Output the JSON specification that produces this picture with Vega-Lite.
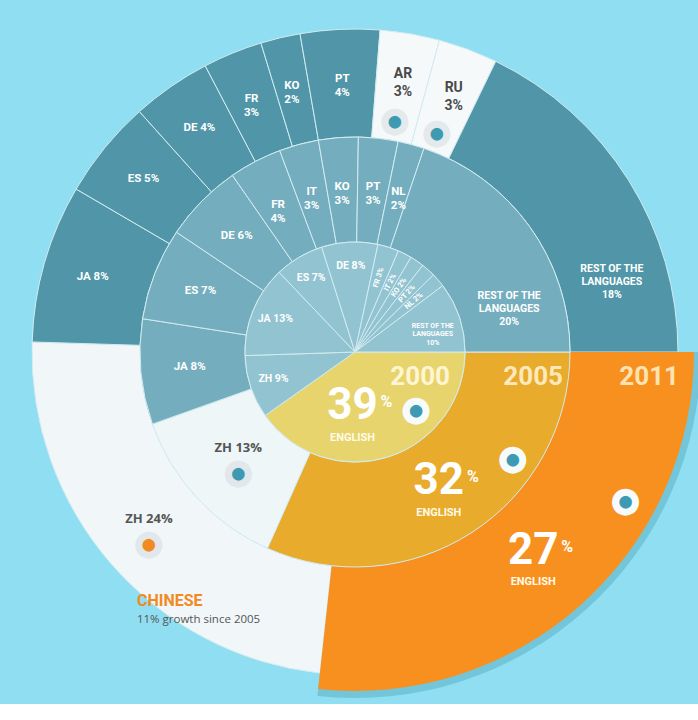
{
  "$schema": "https://vega.github.io/schema/vega-lite/v6.json",
  "width": 710,
  "height": 704,
  "padding": 0,
  "autosize": "none",
  "config": {
    "background": "#8fdef1",
    "view": {"stroke": null},
    "text": {"font": "Roboto, 'Liberation Sans', sans-serif", "fontWeight": "bold", "align": "center", "baseline": "middle", "lineBreak": "\n"}
  },
  "data": {
    "values": [
      {"year": 2000, "lang": "EN", "label": "39", "v": 39, "ord": 1},
      {"year": 2000, "lang": "ZH", "label": "ZH 9%", "v": 9, "ord": 2},
      {"year": 2000, "lang": "JA", "label": "JA 13%", "v": 13, "ord": 3},
      {"year": 2000, "lang": "ES", "label": "ES 7%", "v": 7, "ord": 4},
      {"year": 2000, "lang": "DE", "label": "DE 8%", "v": 8, "ord": 5},
      {"year": 2000, "lang": "FR", "label": "FR 3%", "v": 3, "ord": 6},
      {"year": 2000, "lang": "IT", "label": "IT 2%", "v": 2, "ord": 7},
      {"year": 2000, "lang": "KO", "label": "KO 2%", "v": 2, "ord": 8},
      {"year": 2000, "lang": "PT", "label": "PT 2%", "v": 2, "ord": 9},
      {"year": 2000, "lang": "NL", "label": "NL 2%", "v": 2, "ord": 10},
      {"year": 2000, "lang": "REST", "label": "REST OF THE\nLANGUAGES\n10%", "v": 10, "ord": 11},
      {"year": 2005, "lang": "EN", "label": "32", "v": 32, "ord": 1},
      {"year": 2005, "lang": "ZH", "label": "ZH 13%", "v": 13, "ord": 2},
      {"year": 2005, "lang": "JA", "label": "JA 8%", "v": 8, "ord": 3},
      {"year": 2005, "lang": "ES", "label": "ES 7%", "v": 7, "ord": 4},
      {"year": 2005, "lang": "DE", "label": "DE 6%", "v": 6, "ord": 5},
      {"year": 2005, "lang": "FR", "label": "FR\n4%", "v": 4, "ord": 6},
      {"year": 2005, "lang": "IT", "label": "IT\n3%", "v": 3, "ord": 7},
      {"year": 2005, "lang": "KO", "label": "KO\n3%", "v": 3, "ord": 8},
      {"year": 2005, "lang": "PT", "label": "PT\n3%", "v": 3, "ord": 9},
      {"year": 2005, "lang": "NL", "label": "NL\n2%", "v": 2, "ord": 10},
      {"year": 2005, "lang": "REST", "label": "REST OF THE\nLANGUAGES\n20%", "v": 20, "ord": 11},
      {"year": 2011, "lang": "EN", "label": "27", "v": 27, "ord": 1},
      {"year": 2011, "lang": "ZH", "label": "ZH 24%", "v": 24, "ord": 2},
      {"year": 2011, "lang": "JA", "label": "JA 8%", "v": 8, "ord": 3},
      {"year": 2011, "lang": "ES", "label": "ES 5%", "v": 5, "ord": 4},
      {"year": 2011, "lang": "DE", "label": "DE 4%", "v": 4, "ord": 5},
      {"year": 2011, "lang": "FR", "label": "FR\n3%", "v": 3, "ord": 6},
      {"year": 2011, "lang": "KO", "label": "KO\n2%", "v": 2, "ord": 7},
      {"year": 2011, "lang": "PT", "label": "PT\n4%", "v": 4, "ord": 8},
      {"year": 2011, "lang": "AR", "label": "AR\n3%", "v": 3, "ord": 9},
      {"year": 2011, "lang": "RU", "label": "RU\n3%", "v": 3, "ord": 10},
      {"year": 2011, "lang": "REST", "label": "REST OF THE\nLANGUAGES\n18%", "v": 18, "ord": 11}
    ]
  },
  "transform": [
    {"stack": "v", "groupby": ["year"], "sort": [{"field": "ord", "order": "ascending"}], "offset": "normalize", "as": ["s0", "s1"]},
    {"calculate": "(datum.s0 + datum.s1) / 2", "as": "mid"},
    {"calculate": "datum.mid * 360", "as": "rot"},
    {"calculate": "datum.s0 + 0.3 * (datum.s1 - datum.s0)", "as": "dt"},
    {"calculate": "datum.s0 + (datum.year == 2000 ? 0.64 : 0.5) * (datum.s1 - datum.s0)", "as": "nt"},
    {"calculate": "datum.s0 + 0.72 * (datum.s1 - datum.s0)", "as": "rt"},
    {"calculate": "'' + datum.year", "as": "yr"}
  ],
  "layer": [
    {
      "transform": [{"filter": "datum.year == 2011 && datum.lang == 'EN'"}],
      "mark": {"type": "arc", "radius": 346, "radius2": 215, "color": "#6cbfd4", "opacity": 0.8},
      "encoding": {
        "theta": {"field": "s0", "type": "quantitative", "stack": null, "scale": {"domain": [0, 1], "range": [1.5707963, 7.8539816]}},
        "theta2": {"field": "s1"}
      }
    },
    {
      "transform": [{"filter": "datum.year == 2011 && datum.lang != 'EN'"}],
      "mark": {"type": "arc", "radius": 323, "radius2": 215, "stroke": "#d3ebf1", "strokeWidth": 1},
      "encoding": {
        "theta": {"field": "s0", "type": "quantitative", "stack": null},
        "theta2": {"field": "s1"},
        "color": {"condition": [{"test": "datum.lang == 'ZH'", "value": "#f1f7f9"}, {"test": "datum.lang == 'AR' || datum.lang == 'RU'", "value": "#f6f9fa"}], "value": "#5096a8"}
      }
    },
    {
      "transform": [{"filter": "datum.year == 2011 && datum.lang == 'EN'"}],
      "mark": {"type": "arc", "radius": 339, "radius2": 215, "color": "#f7901e"},
      "encoding": {
        "theta": {"field": "s0", "type": "quantitative", "stack": null},
        "theta2": {"field": "s1"}
      }
    },
    {
      "transform": [{"filter": "datum.year == 2005"}],
      "mark": {"type": "arc", "radius": 215, "radius2": 110, "stroke": "#d3ebf1", "strokeWidth": 1},
      "encoding": {
        "theta": {"field": "s0", "type": "quantitative", "stack": null},
        "theta2": {"field": "s1"},
        "color": {"condition": [{"test": "datum.lang == 'EN'", "value": "#e9ab2b"}, {"test": "datum.lang == 'ZH'", "value": "#eef6f8"}], "value": "#74aebe"}
      }
    },
    {
      "transform": [{"filter": "datum.year == 2000"}],
      "mark": {"type": "arc", "radius": 110, "radius2": 0, "stroke": "#d3ebf1", "strokeWidth": 1},
      "encoding": {
        "theta": {"field": "s0", "type": "quantitative", "stack": null},
        "theta2": {"field": "s1"},
        "color": {"condition": {"test": "datum.lang == 'EN'", "value": "#e7d46c"}, "value": "#92c3d0"}
      }
    },
    {
      "transform": [{"filter": "datum.year == 2000 && datum.lang == 'EN'"}],
      "mark": {"type": "text", "radius": 95, "dy": 12, "align": "right", "baseline": "top", "fontSize": 26, "color": "#fff5d2"},
      "encoding": {"theta": {"field": "s0", "type": "quantitative", "stack": null}, "text": {"field": "yr", "type": "nominal"}}
    },
    {
      "transform": [{"filter": "datum.year == 2005 && datum.lang == 'EN'"}],
      "mark": {"type": "text", "radius": 208, "dy": 12, "align": "right", "baseline": "top", "fontSize": 26, "color": "#fde9bb"},
      "encoding": {"theta": {"field": "s0", "type": "quantitative", "stack": null}, "text": {"field": "yr", "type": "nominal"}}
    },
    {
      "transform": [{"filter": "datum.year == 2011 && datum.lang == 'EN'"}],
      "mark": {"type": "text", "radius": 324, "dy": 12, "align": "right", "baseline": "top", "fontSize": 26, "color": "#fde3b4"},
      "encoding": {"theta": {"field": "s0", "type": "quantitative", "stack": null}, "text": {"field": "yr", "type": "nominal"}}
    },
    {
      "transform": [{"filter": "datum.year == 2000 && datum.lang == 'EN'"}],
      "mark": {"type": "text", "radius": 54, "fontSize": 44, "color": "#ffffff"},
      "encoding": {"theta": {"field": "nt", "type": "quantitative", "stack": null}, "text": {"field": "label", "type": "nominal"}}
    },
    {
      "transform": [{"filter": "datum.year == 2000 && datum.lang == 'EN'"}],
      "mark": {"type": "text", "radius": 54, "dx": 34, "dy": -4, "fontSize": 16, "color": "#ffffff"},
      "encoding": {"theta": {"field": "nt", "type": "quantitative", "stack": null}, "text": {"value": "%"}}
    },
    {
      "transform": [{"filter": "datum.year == 2000 && datum.lang == 'EN'"}],
      "mark": {"type": "text", "radius": 54, "dy": 32, "fontSize": 11, "color": "#fffbe8"},
      "encoding": {"theta": {"field": "nt", "type": "quantitative", "stack": null}, "text": {"value": "ENGLISH"}}
    },
    {
      "transform": [{"filter": "datum.year == 2005 && datum.lang == 'EN'"}],
      "mark": {"type": "text", "radius": 154, "fontSize": 44, "color": "#ffffff"},
      "encoding": {"theta": {"field": "nt", "type": "quantitative", "stack": null}, "text": {"field": "label", "type": "nominal"}}
    },
    {
      "transform": [{"filter": "datum.year == 2005 && datum.lang == 'EN'"}],
      "mark": {"type": "text", "radius": 154, "dx": 34, "dy": -4, "fontSize": 16, "color": "#ffffff"},
      "encoding": {"theta": {"field": "nt", "type": "quantitative", "stack": null}, "text": {"value": "%"}}
    },
    {
      "transform": [{"filter": "datum.year == 2005 && datum.lang == 'EN'"}],
      "mark": {"type": "text", "radius": 154, "dy": 32, "fontSize": 11, "color": "#fffbe8"},
      "encoding": {"theta": {"field": "nt", "type": "quantitative", "stack": null}, "text": {"value": "ENGLISH"}}
    },
    {
      "transform": [{"filter": "datum.year == 2011 && datum.lang == 'EN'"}],
      "mark": {"type": "text", "radius": 267, "fontSize": 44, "color": "#ffffff"},
      "encoding": {"theta": {"field": "nt", "type": "quantitative", "stack": null}, "text": {"field": "label", "type": "nominal"}}
    },
    {
      "transform": [{"filter": "datum.year == 2011 && datum.lang == 'EN'"}],
      "mark": {"type": "text", "radius": 267, "dx": 34, "dy": -4, "fontSize": 16, "color": "#ffffff"},
      "encoding": {"theta": {"field": "nt", "type": "quantitative", "stack": null}, "text": {"value": "%"}}
    },
    {
      "transform": [{"filter": "datum.year == 2011 && datum.lang == 'EN'"}],
      "mark": {"type": "text", "radius": 267, "dy": 31, "fontSize": 11, "color": "#fffbe8"},
      "encoding": {"theta": {"field": "nt", "type": "quantitative", "stack": null}, "text": {"value": "ENGLISH"}}
    },
    {
      "transform": [{"filter": "datum.year == 2000 && datum.lang == 'EN'"}],
      "mark": {"type": "text", "radius": 84, "fontSize": 26, "font": "DejaVu Sans", "color": "#3d9ab2", "stroke": "#f7fbfc", "strokeWidth": 7},
      "encoding": {"theta": {"field": "dt", "type": "quantitative", "stack": null}, "text": {"value": "●"}}
    },
    {
      "transform": [{"filter": "datum.year == 2005 && datum.lang == 'EN'"}],
      "mark": {"type": "text", "radius": 191, "fontSize": 26, "font": "DejaVu Sans", "color": "#3d9ab2", "stroke": "#f7fbfc", "strokeWidth": 7},
      "encoding": {"theta": {"field": "dt", "type": "quantitative", "stack": null}, "text": {"value": "●"}}
    },
    {
      "transform": [{"filter": "datum.year == 2011 && datum.lang == 'EN'"}],
      "mark": {"type": "text", "radius": 309, "fontSize": 26, "font": "DejaVu Sans", "color": "#3d9ab2", "stroke": "#f7fbfc", "strokeWidth": 7},
      "encoding": {"theta": {"field": "dt", "type": "quantitative", "stack": null}, "text": {"value": "●"}}
    },
    {
      "transform": [{"filter": "datum.year == 2005 && datum.lang == 'ZH'"}],
      "mark": {"type": "text", "radius": 159, "dy": 13, "fontSize": 26, "font": "DejaVu Sans", "color": "#3d9ab2", "stroke": "#e1e7ea", "strokeWidth": 7},
      "encoding": {"theta": {"field": "mid", "type": "quantitative", "stack": null}, "text": {"value": "●"}}
    },
    {
      "transform": [{"filter": "datum.year == 2011 && datum.lang == 'ZH'"}],
      "mark": {"type": "text", "radius": 273, "dy": 13, "fontSize": 26, "font": "DejaVu Sans", "color": "#f28a22", "stroke": "#e1e7ea", "strokeWidth": 7},
      "encoding": {"theta": {"field": "mid", "type": "quantitative", "stack": null}, "text": {"value": "●"}}
    },
    {
      "transform": [{"filter": "datum.year == 2011 && (datum.lang == 'AR' || datum.lang == 'RU')"}],
      "mark": {"type": "text", "radius": 234, "fontSize": 26, "font": "DejaVu Sans", "color": "#3d9ab2", "stroke": "#e4e9eb", "strokeWidth": 7},
      "encoding": {"theta": {"field": "mid", "type": "quantitative", "stack": null}, "text": {"value": "●"}}
    },
    {
      "transform": [{"filter": "datum.year == 2000 && indexof(['ZH','JA','ES','DE'], datum.lang) >= 0"}],
      "mark": {"type": "text", "radius": 86, "fontSize": 10.5, "color": "#ffffff"},
      "encoding": {"theta": {"field": "mid", "type": "quantitative", "stack": null}, "text": {"field": "label", "type": "nominal"}}
    },
    {
      "transform": [{"filter": "datum.year == 2000 && indexof(['FR','IT','KO','PT','NL'], datum.lang) >= 0"}],
      "mark": {"type": "text", "radius": 78, "fontSize": 7.5, "color": "#ffffff"},
      "encoding": {
        "theta": {"field": "mid", "type": "quantitative", "stack": null},
        "angle": {"field": "rot", "type": "quantitative", "scale": null},
        "text": {"field": "label", "type": "nominal"}
      }
    },
    {
      "transform": [{"filter": "datum.year == 2000 && datum.lang == 'REST'"}],
      "mark": {"type": "text", "radius": 82, "fontSize": 7, "color": "#ffffff", "lineHeight": 8.5},
      "encoding": {"theta": {"field": "mid", "type": "quantitative", "stack": null}, "text": {"field": "label", "type": "nominal"}}
    },
    {
      "transform": [{"filter": "datum.year == 2005 && indexof(['JA','ES','DE','FR','IT','KO','PT','NL'], datum.lang) >= 0"}],
      "mark": {"type": "text", "radius": 166, "fontSize": 11.5, "color": "#ffffff", "lineHeight": 14},
      "encoding": {"theta": {"field": "mid", "type": "quantitative", "stack": null}, "text": {"field": "label", "type": "nominal"}}
    },
    {
      "transform": [{"filter": "datum.year == 2005 && datum.lang == 'REST'"}],
      "mark": {"type": "text", "radius": 164, "fontSize": 10.5, "color": "#ffffff", "lineHeight": 13},
      "encoding": {"theta": {"field": "rt", "type": "quantitative", "stack": null}, "text": {"field": "label", "type": "nominal"}}
    },
    {
      "transform": [{"filter": "datum.year == 2011 && indexof(['JA','ES','DE','FR','KO','PT'], datum.lang) >= 0"}],
      "mark": {"type": "text", "radius": 273, "fontSize": 11.5, "color": "#ffffff", "lineHeight": 14},
      "encoding": {"theta": {"field": "mid", "type": "quantitative", "stack": null}, "text": {"field": "label", "type": "nominal"}}
    },
    {
      "transform": [{"filter": "datum.year == 2011 && datum.lang == 'REST'"}],
      "mark": {"type": "text", "radius": 270, "fontSize": 10.5, "color": "#ffffff", "lineHeight": 13},
      "encoding": {"theta": {"field": "rt", "type": "quantitative", "stack": null}, "text": {"field": "label", "type": "nominal"}}
    },
    {
      "transform": [{"filter": "datum.year == 2011 && (datum.lang == 'AR' || datum.lang == 'RU')"}],
      "mark": {"type": "text", "radius": 282, "fontSize": 14, "color": "#4a4a4a", "lineHeight": 18},
      "encoding": {"theta": {"field": "mid", "type": "quantitative", "stack": null}, "text": {"field": "label", "type": "nominal"}}
    },
    {
      "transform": [{"filter": "datum.year == 2005 && datum.lang == 'ZH'"}],
      "mark": {"type": "text", "radius": 159, "dy": -12, "fontSize": 13, "color": "#555555", "font": "'Open Sans', sans-serif"},
      "encoding": {"theta": {"field": "mid", "type": "quantitative", "stack": null}, "text": {"field": "label", "type": "nominal"}}
    },
    {
      "transform": [{"filter": "datum.year == 2011 && datum.lang == 'ZH'"}],
      "mark": {"type": "text", "radius": 273, "dy": -12, "fontSize": 13, "color": "#555555", "font": "'Open Sans', sans-serif"},
      "encoding": {"theta": {"field": "mid", "type": "quantitative", "stack": null}, "text": {"field": "label", "type": "nominal"}}
    },
    {
      "transform": [{"filter": "datum.year == 2011 && datum.lang == 'ZH'"}],
      "mark": {"type": "text", "radius": 273, "dx": -12, "dy": 70, "align": "left", "fontSize": 16, "color": "#f28a22"},
      "encoding": {"theta": {"field": "mid", "type": "quantitative", "stack": null}, "text": {"value": "CHINESE"}}
    },
    {
      "transform": [{"filter": "datum.year == 2011 && datum.lang == 'ZH'"}],
      "mark": {"type": "text", "radius": 273, "dx": -12, "dy": 89, "align": "left", "fontSize": 11.5, "fontWeight": "normal", "color": "#555555", "font": "'Open Sans', sans-serif"},
      "encoding": {"theta": {"field": "mid", "type": "quantitative", "stack": null}, "text": {"value": "11% growth since 2005"}}
    }
  ]
}
